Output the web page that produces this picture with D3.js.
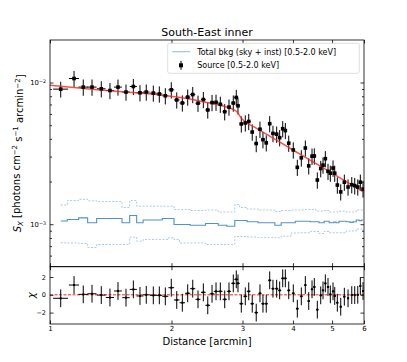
<!DOCTYPE html>
<html>
<head>
<meta charset="utf-8">
<script src="https://cdn.jsdelivr.net/npm/d3@7"></script>
<style>
  body { margin: 0; background: #fff; }
  text { font-family: "DejaVu Sans", sans-serif; fill: #000; }
</style>
</head>
<body>
<div id="chart"></div>
<script>
// Radial bins [arcmin]
const distance = [1.063, 1.147, 1.209, 1.271, 1.340, 1.408, 1.474, 1.543, 1.609, 1.671,
  1.732, 1.803, 1.866, 1.931, 1.998, 2.061, 2.128, 2.194, 2.258, 2.327,
  2.399, 2.460, 2.521, 2.579, 2.643, 2.710, 2.777, 2.846, 2.895, 2.923,
  2.979, 3.048, 3.108, 3.171, 3.244, 3.314, 3.371, 3.435, 3.503, 3.569,
  3.645, 3.708, 3.773, 3.830, 3.905, 4.008, 4.101, 4.196, 4.293, 4.377,
  4.460, 4.519, 4.597, 4.687, 4.749, 4.812, 4.886, 4.951, 5.028, 5.077,
  5.153, 5.254, 5.363, 5.478, 5.595, 5.691, 5.790, 5.876, 5.967];
const distanceErr = [0.045, 0.033, 0.033, 0.033, 0.033, 0.033, 0.033, 0.033, 0.033, 0.033,
  0.033, 0.033, 0.033, 0.033, 0.033, 0.033, 0.033, 0.033, 0.033, 0.033,
  0.033, 0.033, 0.033, 0.033, 0.033, 0.033, 0.033, 0.033, 0.033, 0.033,
  0.033, 0.033, 0.033, 0.033, 0.033, 0.033, 0.033, 0.033, 0.033, 0.033,
  0.033, 0.033, 0.033, 0.033, 0.033, 0.033, 0.033, 0.033, 0.033, 0.033,
  0.033, 0.033, 0.033, 0.033, 0.033, 0.033, 0.033, 0.033, 0.033, 0.033,
  0.033, 0.033, 0.033, 0.033, 0.033, 0.033, 0.033, 0.033, 0.033];

// Source surface brightness [1e-3 photons cm^-2 s^-1 arcmin^-2]
const source = [8.98, 10.67, 9.28, 9.28, 9.03, 8.78, 9.28, 8.56, 9.37, 8.46,
  8.56, 8.42, 8.30, 8.06, 8.88, 7.53, 7.17, 7.89, 8.22, 7.14,
  7.58, 6.40, 7.22, 7.25, 7.02, 6.22, 6.71, 7.16, 7.84, 6.85,
  5.10, 5.18, 5.31, 4.47, 3.71, 4.68, 3.95, 3.75, 5.12, 4.37,
  4.32, 4.08, 4.72, 4.58, 3.73, 3.34, 2.52, 2.94, 3.45, 2.58,
  3.02, 3.03, 2.05, 2.47, 2.61, 2.90, 2.36, 2.29, 2.49, 2.29,
  1.89, 1.69, 1.98, 1.83, 1.90, 1.87, 1.83, 1.98, 1.77];
const sourceErr = [1.15, 1.40, 1.22, 1.22, 1.18, 1.15, 1.21, 1.12, 1.22, 1.11,
  1.12, 1.10, 1.09, 1.06, 1.16, 0.99, 0.94, 1.03, 1.08, 0.94,
  0.99, 0.84, 0.95, 0.95, 0.92, 0.82, 0.88, 0.94, 1.03, 0.90,
  0.67, 0.68, 0.70, 0.59, 0.49, 0.62, 0.52, 0.49, 0.67, 0.58,
  0.57, 0.54, 0.62, 0.60, 0.49, 0.44, 0.33, 0.39, 0.45, 0.34,
  0.40, 0.40, 0.27, 0.33, 0.34, 0.38, 0.31, 0.30, 0.33, 0.30,
  0.25, 0.22, 0.26, 0.24, 0.25, 0.25, 0.24, 0.26, 0.23];

// Total background and its +/- band [1e-3 ...]
const bkg = [1.053, 1.079, 1.109, 1.023, 1.097, 1.097, 1.097, 1.023, 1.152, 1.023,
  1.070, 1.070, 1.070, 1.097, 1.097, 0.995, 0.995, 0.995, 0.984, 0.984,
  0.984, 1.011, 1.011, 1.011, 0.984, 0.984, 0.968, 0.968, 1.062, 1.062,
  1.062, 1.062, 1.040, 1.040, 1.040, 1.023, 1.023, 1.023, 1.023, 1.023,
  0.984, 0.984, 1.023, 1.023, 1.023, 1.023, 1.050, 1.050, 1.050, 1.050,
  1.040, 1.040, 1.040, 1.023, 1.023, 1.050, 1.050, 1.023, 1.023, 1.035,
  1.023, 1.050, 1.050, 1.040, 1.030, 1.040, 1.070, 1.060, 1.070];
const bkgHi = [1.365, 1.469, 1.498, 1.462, 1.445, 1.445, 1.445, 1.311, 1.469, 1.339,
  1.339, 1.339, 1.339, 1.339, 1.339, 1.269, 1.269, 1.269, 1.249, 1.249,
  1.249, 1.259, 1.259, 1.259, 1.219, 1.219, 1.219, 1.219, 1.376, 1.376,
  1.311, 1.311, 1.280, 1.280, 1.280, 1.259, 1.259, 1.259, 1.259, 1.259,
  1.228, 1.228, 1.249, 1.249, 1.249, 1.259, 1.259, 1.259, 1.269, 1.269,
  1.269, 1.269, 1.239, 1.239, 1.239, 1.249, 1.249, 1.219, 1.219, 1.219,
  1.219, 1.235, 1.235, 1.219, 1.219, 1.219, 1.259, 1.259, 1.259];
const bkgLo = [0.740, 0.737, 0.731, 0.685, 0.719, 0.719, 0.719, 0.719, 0.810, 0.759,
  0.780, 0.780, 0.780, 0.780, 0.802, 0.780, 0.737, 0.737, 0.737, 0.737,
  0.737, 0.719, 0.719, 0.719, 0.719, 0.719, 0.719, 0.719, 0.819, 0.819,
  0.819, 0.819, 0.813, 0.813, 0.813, 0.806, 0.806, 0.806, 0.806, 0.806,
  0.802, 0.802, 0.823, 0.823, 0.823, 0.867, 0.867, 0.870, 0.870, 0.870,
  0.888, 0.888, 0.888, 0.860, 0.860, 0.888, 0.888, 0.870, 0.870, 0.870,
  0.870, 0.870, 0.870, 0.896, 0.896, 0.896, 0.925, 0.925, 0.925];

// Best-fit model curve [arcmin], [1e-3 ...]
const modelX = [1.0, 1.33, 1.82, 2.2, 2.42, 2.67, 2.83, 2.91, 2.97, 3.04, 3.22, 4.0, 5.0, 6.0];
const modelY = [9.56, 8.85, 8.25, 7.68, 7.28, 6.85, 6.50, 6.19, 5.67, 5.31, 4.82, 3.34, 2.29, 1.68];

// Residuals (chi)
const chi = [-0.39, 1.10, 0.05, 0.12, -0.03, -0.30, 0.43, -0.32, 0.61, -0.13,
  0.00, -0.06, -0.06, -0.17, 0.80, -0.58, -0.89, 0.17, 0.69, -0.51,
  0.28, -1.18, 0.12, 0.39, 0.39, -0.51, 0.39, 1.29, 1.74, 1.29,
  -1.00, -0.17, 0.39, -1.00, -2.00, 0.17, -1.00, -1.00, 1.63, 0.69,
  0.69, 0.50, 1.85, 1.85, 0.50, 0.17, -1.56, -0.17, 1.10, -0.70,
  0.62, 0.88, -1.67, -0.06, 0.50, 1.29, 0.88, 0.05, 0.39, -0.13,
  -0.89, -1.34, -0.21, -0.39, -0.03, -0.03, 0.00, 0.99, 0.43];

const xTicks = [1, 2, 3, 4, 5, 6];
const yMajor = [1e-3, 1e-2];
const yMinor = [6e-4, 7e-4, 8e-4, 9e-4, 2e-3, 3e-3, 4e-3, 5e-3, 6e-3, 7e-3, 8e-3, 9e-3];
const chiTicks = [-2, 0, 2];

const unit = 1e-3;
const W = 407, H = 362;
const left = 50, right = 364, mainTop = 40, mainBottom = 266.7, resBottom = 324;

const svg = d3.select("#chart").append("svg")
  .attr("width", W).attr("height", H);
svg.append("rect").attr("width", W).attr("height", H).attr("fill", "#fff");

const x = d3.scaleLog().domain([1, 6]).range([left, right]);
const y = d3.scaleLog().domain([Math.pow(10, -3.3), Math.pow(10, -1.7)]).range([mainBottom, mainTop]);
const yr = d3.scaleLinear().domain([-3.28, 3.16]).range([resBottom, mainBottom]);

const rows = distance.map((d, i) => ({
  x: d, xe: distanceErr[i],
  v: source[i] * unit, e: sourceErr[i] * unit,
  b: bkg[i] * unit, bh: bkgHi[i] * unit, bl: bkgLo[i] * unit,
  r: chi[i]
}));

// clip paths
svg.append("clipPath").attr("id", "clipMain").append("rect")
  .attr("x", left).attr("y", mainTop).attr("width", right - left).attr("height", mainBottom - mainTop);
svg.append("clipPath").attr("id", "clipRes").append("rect")
  .attr("x", left).attr("y", mainBottom).attr("width", right - left).attr("height", resBottom - mainBottom);

// ---- Main panel ----
const main = svg.append("g").attr("clip-path", "url(#clipMain)");

const stepLine = key => d3.line().x(d => x(d.x)).y(d => y(d[key])).curve(d3.curveStep);

main.append("path").datum(rows).attr("d", stepLine("bh"))
  .attr("fill", "none").attr("stroke", "#a9cbe8").attr("stroke-width", 1).attr("stroke-dasharray", "2,1.5");
main.append("path").datum(rows).attr("d", stepLine("bl"))
  .attr("fill", "none").attr("stroke", "#a9cbe8").attr("stroke-width", 1).attr("stroke-dasharray", "2,1.5");
main.append("path").datum(rows).attr("d", stepLine("b"))
  .attr("fill", "none").attr("stroke", "#4f92cc").attr("stroke-width", 1.1);

// data error bars
main.selectAll(".ey").data(rows).enter().append("line")
  .attr("x1", d => x(d.x)).attr("x2", d => x(d.x))
  .attr("y1", d => y(d.v - d.e)).attr("y2", d => y(d.v + d.e))
  .attr("stroke", "#000").attr("stroke-width", 1);
main.selectAll(".ex").data(rows).enter().append("line")
  .attr("x1", d => x(d.x - d.xe)).attr("x2", d => x(d.x + d.xe))
  .attr("y1", d => y(d.v)).attr("y2", d => y(d.v))
  .attr("stroke", "#000").attr("stroke-width", 1);

// model
const model = modelX.map((d, i) => ({x: d, y: modelY[i] * unit}));
main.append("path").datum(model)
  .attr("d", d3.line().x(d => x(d.x)).y(d => y(d.y)).curve(d3.curveMonotoneX))
  .attr("fill", "none").attr("stroke", "#ff2020").attr("stroke-opacity", 0.8).attr("stroke-width", 1.5);

main.selectAll(".pt").data(rows).enter().append("rect")
  .attr("x", d => x(d.x) - 1.8).attr("y", d => y(d.v) - 1.8)
  .attr("width", 3.6).attr("height", 3.6).attr("fill", "#000");

// ---- Residual panel ----
const res = svg.append("g").attr("clip-path", "url(#clipRes)");
res.append("line")
  .attr("x1", left).attr("x2", right).attr("y1", yr(0)).attr("y2", yr(0))
  .attr("stroke", "#ff2020").attr("stroke-width", 1).attr("stroke-dasharray", "3,1.5");
res.selectAll(".ry").data(rows).enter().append("line")
  .attr("x1", d => x(d.x)).attr("x2", d => x(d.x))
  .attr("y1", d => yr(d.r - 1)).attr("y2", d => yr(d.r + 1))
  .attr("stroke", "#000").attr("stroke-width", 1);
res.selectAll(".rx").data(rows).enter().append("line")
  .attr("x1", d => x(d.x - d.xe)).attr("x2", d => x(d.x + d.xe))
  .attr("y1", d => yr(d.r)).attr("y2", d => yr(d.r))
  .attr("stroke", "#000").attr("stroke-width", 1);
res.selectAll(".rp").data(rows).enter().append("rect")
  .attr("x", d => x(d.x) - 1).attr("y", d => yr(d.r) - 1)
  .attr("width", 2).attr("height", 2).attr("fill", "#000");

// ---- Axes (ticks point inward) ----
const major = 3.5, minor = 2;
function clean(g) { g.select(".domain").remove(); g.selectAll("line").attr("stroke", "#000").attr("stroke-width", 0.8); }
function supLabel(g) {
  g.selectAll(".tick text").text(null).each(function(d) {
    const t = d3.select(this);
    t.append("tspan").text("10");
    t.append("tspan").attr("dy", "-0.45em").attr("font-size", "4.8px")
      .text("\u2212" + Math.round(-Math.log10(d)));
  });
}

svg.append("g").attr("transform", `translate(${left},0)`)
  .call(d3.axisLeft(y).tickValues(yMajor).tickSize(-major).tickPadding(4))
  .call(clean).call(supLabel)
  .selectAll("text").attr("font-size", "6.8px").attr("font-family", "DejaVu Sans");
svg.append("g").attr("transform", `translate(${left},0)`)
  .call(d3.axisLeft(y).tickValues(yMinor).tickSize(-minor).tickFormat(""))
  .call(clean);
svg.append("g").attr("transform", `translate(${right},0)`)
  .call(d3.axisRight(y).tickValues(yMajor).tickSize(-major).tickFormat(""))
  .call(clean);
svg.append("g").attr("transform", `translate(${right},0)`)
  .call(d3.axisRight(y).tickValues(yMinor).tickSize(-minor).tickFormat(""))
  .call(clean);

// x ticks on main panel (top and bottom)
svg.append("g").attr("transform", `translate(0,${mainBottom})`)
  .call(d3.axisBottom(x).tickValues(xTicks).tickSize(-major).tickFormat(""))
  .call(clean);
svg.append("g").attr("transform", `translate(0,${mainTop})`)
  .call(d3.axisTop(x).tickValues(xTicks).tickSize(-major).tickFormat(""))
  .call(clean);

// residual axes
svg.append("g").attr("transform", `translate(0,${resBottom})`)
  .call(d3.axisBottom(x).tickValues(xTicks).tickSize(-major).tickPadding(2.5).tickFormat(d3.format("d")))
  .call(clean)
  .selectAll("text").attr("font-size", "7px").attr("font-family", "DejaVu Sans");
svg.append("g").attr("transform", `translate(0,${mainBottom})`)
  .call(d3.axisTop(x).tickValues(xTicks).tickSize(-major).tickFormat(""))
  .call(clean);
svg.append("g").attr("transform", `translate(${left},0)`)
  .call(d3.axisLeft(yr).tickValues(chiTicks).tickSize(-major).tickPadding(4)
    .tickFormat(d => d < 0 ? "\u2212" + Math.abs(d) : d))
  .call(clean)
  .selectAll("text").attr("font-size", "6.5px").attr("font-family", "DejaVu Sans");
svg.append("g").attr("transform", `translate(${right},0)`)
  .call(d3.axisRight(yr).tickValues(chiTicks).tickSize(-major).tickFormat(""))
  .call(clean);

// frames
svg.append("rect").attr("x", left).attr("y", mainTop)
  .attr("width", right - left).attr("height", mainBottom - mainTop)
  .attr("fill", "none").attr("stroke", "#000").attr("stroke-width", 0.8);
svg.append("rect").attr("x", left).attr("y", mainBottom)
  .attr("width", right - left).attr("height", resBottom - mainBottom)
  .attr("fill", "none").attr("stroke", "#000").attr("stroke-width", 0.8);

// ---- Labels ----
svg.append("text").attr("x", (left + right) / 2).attr("y", 36)
  .attr("text-anchor", "middle").attr("font-size", "11px").text("South-East inner");

svg.append("text").attr("x", (left + right) / 2).attr("y", 345)
  .attr("text-anchor", "middle").attr("font-size", "10px").text("Distance [arcmin]");

const yl = svg.append("text")
  .attr("transform", `translate(21,${(mainTop + mainBottom) / 2}) rotate(-90)`)
  .attr("text-anchor", "middle").attr("font-size", "10px");
yl.append("tspan").attr("font-style", "italic").text("S");
yl.append("tspan").attr("dy", "0.25em").attr("font-size", "7px").attr("font-style", "italic").text("X");
yl.append("tspan").attr("dy", "-0.25em").text(" [photons cm");
yl.append("tspan").attr("dy", "-0.45em").attr("font-size", "7px").text("\u22122");
yl.append("tspan").attr("dy", "0.45em").text(" s");
yl.append("tspan").attr("dy", "-0.45em").attr("font-size", "7px").text("\u22121");
yl.append("tspan").attr("dy", "0.45em").text(" arcmin");
yl.append("tspan").attr("dy", "-0.45em").attr("font-size", "7px").text("\u22122");
yl.append("tspan").attr("dy", "0.45em").text("]");

svg.append("text")
  .attr("transform", `translate(35,${(mainBottom + resBottom) / 2}) rotate(-90)`)
  .attr("text-anchor", "middle").attr("font-size", "10px").attr("font-style", "italic").text("\u03c7");

// ---- Legend ----
const lg = svg.append("g").attr("transform", "translate(167.7,43.3)");
lg.append("rect").attr("width", 191.6).attr("height", 30).attr("rx", 2)
  .attr("fill", "#fff").attr("fill-opacity", 0.8).attr("stroke", "#d6d6d6").attr("stroke-width", 0.8);
lg.append("line").attr("x1", 4.5).attr("x2", 22.5).attr("y1", 8.4).attr("y2", 8.4)
  .attr("stroke", "#9cc3e4").attr("stroke-width", 1.2);
lg.append("text").attr("x", 29.5).attr("y", 11.3).attr("font-size", "8px")
  .text("Total bkg (sky + inst) [0.5-2.0 keV]");
lg.append("line").attr("x1", 13.3).attr("x2", 13.3).attr("y1", 17.5).attr("y2", 26.5)
  .attr("stroke", "#000").attr("stroke-width", 1);
lg.append("rect").attr("x", 11.3).attr("y", 20).attr("width", 4).attr("height", 4).attr("fill", "#000");
lg.append("text").attr("x", 29.5).attr("y", 25).attr("font-size", "8px")
  .text("Source [0.5-2.0 keV]");
</script>
</body>
</html>
